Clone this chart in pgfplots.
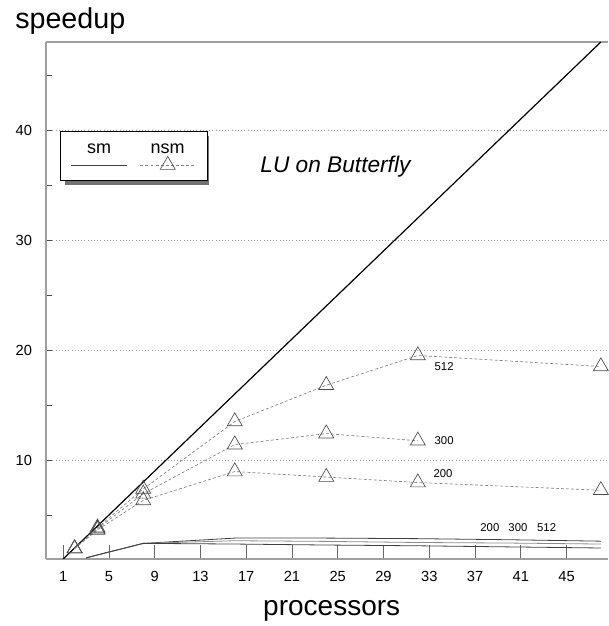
\documentclass[border=0pt]{standalone}
\usepackage{pgfplots}
\pgfplotsset{compat=1.18}
\usepackage{fontspec}
\setmainfont{Liberation Sans}

\pgfdeclarelayer{background}
\pgfsetlayers{background,main}

\newcommand{\legfont}{\fontsize{13.5}{14}\selectfont}
\newcommand{\lblfont}{\fontsize{8.5}{9}\selectfont}

\begin{document}
\begin{tikzpicture}
\begin{axis}[
    scale only axis,
    width=421.8pt, height=387.75pt,
    xmin=-0.5, xmax=48.66,
    ymin=1, ymax=48,
    axis x line*=box, axis y line*=left,
    axis line style={gray!75, line width=1.1pt},
    xtick={1,5,...,45}, xtick pos=lower,
    ytick={10,20,30,40}, minor ytick={5,15,...,45},
    tick align=inside,
    xtick style={black!60, line width=0.6pt, /pgfplots/major tick length=10.5pt},
    ytick style={black!70, line width=0.6pt, /pgfplots/major tick length=4.3pt, /pgfplots/minor tick length=4.3pt},
    ymajorgrids,
    major grid style={dotted, gray!80, line width=0.4pt},
    tick label style={font=\fontsize{11}{13}\selectfont},
    /pgf/number format/assume math mode=true,
    xticklabel style={yshift=-6pt},
    yticklabel style={xshift=-7pt},
    xlabel={processors},
    xlabel style={at={(axis description cs:0.508,0)}, anchor=base, inner sep=0pt, yshift=-42pt, font=\fontsize{21}{24}\selectfont},
    ylabel={speedup},
    ylabel style={rotate=-90, at={(axis description cs:0,1)}, anchor=base west, inner sep=0pt, xshift=-23.25pt, yshift=10.3pt, font=\fontsize{21.5}{24}\selectfont},
    legend columns=2,
    legend style={
        at={(axis description cs:0.0249,0.828)}, anchor=north west,
        draw=black, line width=0.6pt, fill=white,
        inner sep=0pt, /tikz/column sep=0pt, /tikz/row sep=0pt,
        nodes={inner sep=0pt},
    },
]

% legend entries (text sits above the line sample)
\addlegendimage{legend image code/.code={
    \path[draw=none, fill=none] (-8pt,-11.5pt) rectangle (46.5pt,25.3pt);
    \draw[black!75, line width=0.6pt] (0pt,0pt) -- (42pt,0pt);
    \node[black, anchor=base, font=\legfont] at (21pt,8.5pt) {sm};
}}
\addlegendentry{}
\addlegendimage{legend image code/.code={
    \path[draw=none, fill=none] (-4.5pt,-11.5pt) rectangle (49pt,25.3pt);
    \draw[black!50, line width=0.5pt, dash pattern=on 2.2pt off 1.6pt] (0pt,0pt) -- (41pt,0pt);
    \draw[black!70, line width=0.5pt] plot[mark=triangle, mark size=6.5pt] coordinates {(20.5pt,0pt)};
    \node[black, anchor=base, font=\legfont] at (20.5pt,8.5pt) {nsm};
}}
\addlegendentry{}

% ideal speedup
\addplot[black, line width=0.9pt, forget plot] coordinates {(1,1) (48,48)};

% sm
\addplot[black!75, line width=0.6pt, forget plot] coordinates {
    (3,1.1) (4,1.37) (8,2.42) (16,2.9) (24,2.9) (32,2.85) (40,2.75) (48,2.62)};
\addplot[black!45, line width=0.6pt, forget plot] coordinates {
    (3,1.1) (4,1.37) (8,2.42) (16,2.66) (24,2.6) (32,2.5) (40,2.45) (48,2.36)};
\addplot[black!75, line width=0.6pt, forget plot] coordinates {
    (3,1.1) (4,1.37) (8,2.42) (16,2.36) (24,2.27) (32,2.2) (40,2.1) (48,2.0)};

% nsm
\pgfplotsset{nsm/.style={black!50, line width=0.5pt, dash pattern=on 2.2pt off 1.6pt,
    mark=triangle, mark size=6.5pt, mark options={solid, black!70}, forget plot}}
\addplot[nsm] coordinates {
    (2,1.95) (4,3.85) (8,7.37) (16,13.5) (24,16.8) (32,19.5) (48,18.5)};
\addplot[nsm] coordinates {
    (2,1.95) (4,3.75) (8,6.93) (16,11.4) (24,12.4) (32,11.75)};
\addplot[nsm] coordinates {
    (2,1.95) (4,3.65) (8,6.33) (16,8.95) (24,8.45) (32,7.95) (48,7.25)};

\node[anchor=base, font=\fontsize{17}{20}\selectfont\itshape] at (axis cs:24.8,36.1) {LU on Butterfly};
\node[font=\lblfont] at (axis cs:34.3,18.45) {512};
\node[font=\lblfont] at (axis cs:34.3,11.8) {300};
\node[font=\lblfont] at (axis cs:34.2,8.8) {200};
\node[font=\lblfont] at (axis cs:38.3,3.87) {200};
\node[font=\lblfont] at (axis cs:40.75,3.87) {300};
\node[font=\lblfont] at (axis cs:43.26,3.87) {512};
\coordinate (lg) at (axis description cs:0.0249,0.828);
\end{axis}
% shadow behind the legend box
\begin{pgfonlayer}{background}
\fill[black!55] ([shift={(3.75pt,-3.75pt)}]lg) rectangle ([shift={(111.75pt,-40.5pt)}]lg);
\end{pgfonlayer}
\pgfresetboundingbox
\path[use as bounding box] ([xshift=-34.5pt,yshift=-50.25pt]current axis.south west)
    rectangle ([xshift=0.4pt,yshift=31.5pt]current axis.north east);
\end{tikzpicture}
\end{document}
